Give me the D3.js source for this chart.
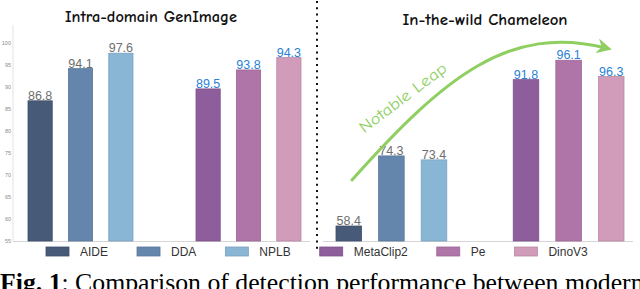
<!DOCTYPE html>
<html>
<head>
<meta charset="utf-8">
<script src="https://cdn.jsdelivr.net/npm/d3@7"></script>
<style>
  body { margin: 0; background: #fff; }
  svg { display: block; }
</style>
</head>
<body>
<div id="chart"></div>
<script>
// svg container dimensions
var width = 640;
var height = 289;

// data ----------------------------------------------------------------------
var models = ["AIDE", "DDA", "NPLB", "MetaClip2", "Pe", "DinoV3"];
var groups = ["detector", "foundation"];
var groupOf = ["detector", "detector", "detector", "foundation", "foundation", "foundation"];
var colors = ["#475a78", "#6486ad", "#8ab6d6", "#8e5e9c", "#b075a8", "#d09cba"];

// printed labels
var genImageLabels = [86.8, 94.1, 97.6, 89.5, 93.8, 94.3];
var chameleonLabels = [58.4, 74.3, 73.4, 91.8, 96.1, 96.3];
// bar heights as they are drawn in the picture
var genImageBars = [86.8, 94.1, 97.6, 89.5, 93.8, 96.6];
var chameleonBars = [58.4, 74.3, 73.4, 91.6, 96.0, 92.3];

var yTicks = [55, 60, 65, 70, 75, 80, 85, 90, 95, 100];
var panelTitles = ["Intra-domain GenImage", "In-the-wild Chameleon"];
var captionBold = "Fig. 1";
var captionText = ": Comparison of detection performance between modern";

// layout --------------------------------------------------------------------
var baseY = 241;
var topY = 25;

var svg = d3.select("#chart")
  .append("svg")
  .attr("width", width)
  .attr("height", height);

var y = d3.scaleLinear()
  .domain([55, 104])
  .range([baseY, topY]);

var panels = [
  { title: panelTitles[0], bars: genImageBars, labels: genImageLabels,
    range: [28, 301], axis: [13, 310], titleX: 151, titleY: 22, titleW: 172, yAxis: true, weight: "bold" },
  { title: panelTitles[1], bars: chameleonBars, labels: chameleonLabels,
    range: [336, 624], axis: [323, 633], titleX: 485, titleY: 25, titleW: 165, yAxis: false, weight: "bold" }
];

var comic = "'Comic Sans MS', 'Comic Neue', 'DejaVu Sans', sans-serif";

panels.forEach(function(p) {
  var g = svg.append("g");

  // outer band per model family, inner band per model
  var xOuter = d3.scaleBand().domain(groups).range(p.range).paddingInner(0.375).paddingOuter(0);
  var xInner = {};
  groups.forEach(function(gr) {
    var ms = models.filter((m, i) => groupOf[i] === gr);
    xInner[gr] = d3.scaleBand().domain(ms).range([0, xOuter.bandwidth()]).paddingInner(0.4).paddingOuter(0);
  });
  var xPos = (m, i) => xOuter(groupOf[i]) + xInner[groupOf[i]](m);
  var bw = xInner[groups[0]].bandwidth();

  // y axis (left panel only)
  if (p.yAxis) {
    var yAxis = g.append("g")
      .attr("transform", `translate(${p.axis[0]},0)`)
      .call(d3.axisLeft(y).tickValues(yTicks).tickSize(0).tickPadding(2));
    yAxis.select(".domain").remove();
    yAxis.selectAll("text")
      .attr("fill", "#8a8a8a")
      .style("font-family", "'Liberation Sans', Arial, sans-serif")
      .style("font-size", "5.5px");
    g.append("line")
      .attr("x1", p.axis[0]).attr("x2", p.axis[0])
      .attr("y1", y(104)).attr("y2", baseY)
      .attr("stroke", "#e3e3e3").attr("stroke-width", 1);
  }

  // bottom axis line
  g.append("line")
    .attr("x1", p.axis[0]).attr("x2", p.axis[1])
    .attr("y1", baseY + 0.5).attr("y2", baseY + 0.5)
    .attr("stroke", "#d6d6d6").attr("stroke-width", 1);

  // bars
  g.selectAll("rect.bar")
    .data(models)
    .enter()
    .append("rect")
    .attr("class", "bar")
    .attr("x", (m, i) => xPos(m, i))
    .attr("y", (m, i) => y(p.bars[i]))
    .attr("width", bw)
    .attr("height", (m, i) => baseY - y(p.bars[i]))
    .attr("fill", (m, i) => colors[i])
    .attr("stroke", (m, i) => d3.color(colors[i]).darker(0.35))
    .attr("stroke-width", 0.8);

  // value labels
  g.selectAll("text.val")
    .data(models)
    .enter()
    .append("text")
    .attr("class", "val")
    .attr("x", (m, i) => xPos(m, i) + bw / 2)
    .attr("y", (m, i) => y(p.bars[i]) - 1)
    .attr("text-anchor", "middle")
    .attr("fill", (m, i) => groupOf[i] === "detector" ? "#6e6e6e" : "#2a7fd6")
    .style("font-family", "'Liberation Sans', Arial, sans-serif")
    .style("font-size", "12.5px")
    .text((m, i) => p.labels[i].toFixed(1));

  // panel title
  g.append("text")
    .attr("x", p.titleX)
    .attr("y", p.titleY)
    .attr("text-anchor", "middle")
    .attr("textLength", p.titleW)
    .attr("lengthAdjust", "spacingAndGlyphs")
    .attr("fill", "#111")
    .style("font-family", comic)
    .style("font-weight", p.weight)
    .style("font-size", "16.5px")
    .text(p.title);
});

// dotted divider
svg.append("line")
  .attr("x1", 317).attr("x2", 317)
  .attr("y1", 1).attr("y2", 250)
  .attr("stroke", "#111")
  .attr("stroke-width", 2)
  .attr("stroke-dasharray", "2,4.3");

// "Notable Leap" arrow
var green = "#8fcf62";
svg.append("defs").append("marker")
  .attr("id", "arrowHead")
  .attr("viewBox", "0 0 10 10")
  .attr("refX", 6).attr("refY", 5)
  .attr("markerWidth", 5).attr("markerHeight", 5)
  .attr("orient", "auto")
  .append("path")
  .attr("d", "M0,0 L10,5 L0,10 L3,5 Z")
  .attr("fill", green);

var arc = d3.path();
arc.moveTo(352, 180);
arc.bezierCurveTo(445, 76, 509, 24, 606, 48);
svg.append("path")
  .attr("d", arc.toString())
  .attr("fill", "none")
  .attr("stroke", green)
  .attr("stroke-width", 3)
  .attr("stroke-linecap", "round")
  .attr("marker-end", "url(#arrowHead)");

svg.append("text")
  .attr("transform", "translate(406,102) rotate(-37)")
  .attr("text-anchor", "middle")
  .attr("textLength", 105)
  .attr("lengthAdjust", "spacingAndGlyphs")
  .attr("fill", green)
  .style("font-family", comic)
  .style("font-size", "16px")
  .text("Notable Leap");

// legend
var legend = svg.append("g").attr("transform", "translate(46,247)");
var lx = 0;
models.forEach(function(m, i) {
  var item = legend.append("g").attr("transform", `translate(${lx},0)`);
  item.append("rect")
    .attr("width", 23).attr("height", 9)
    .attr("fill", colors[i])
    .attr("stroke", d3.color(colors[i]).darker(0.35))
    .attr("stroke-width", 0.8);
  var t = item.append("text")
    .attr("x", 34).attr("y", 9)
    .attr("fill", "#333")
    .style("font-family", "'Liberation Sans', Arial, sans-serif")
    .style("font-size", "12px")
    .text(m);
  lx += 34 + t.node().getComputedTextLength() + 29;
});

// caption
var cap = svg.append("text")
  .attr("x", 0)
  .attr("fill", "#000")
  .style("font-family", "'Liberation Serif', 'Times New Roman', serif")
  .style("font-size", "22px");
cap.append("tspan").style("font-weight", "bold").text(captionBold);
cap.append("tspan").text(captionText);
var capSize = 22 * 644 / cap.node().getComputedTextLength();
cap.style("font-size", capSize + "px")
  .attr("y", 274 + capSize * 0.66);
</script>
</body>
</html>
